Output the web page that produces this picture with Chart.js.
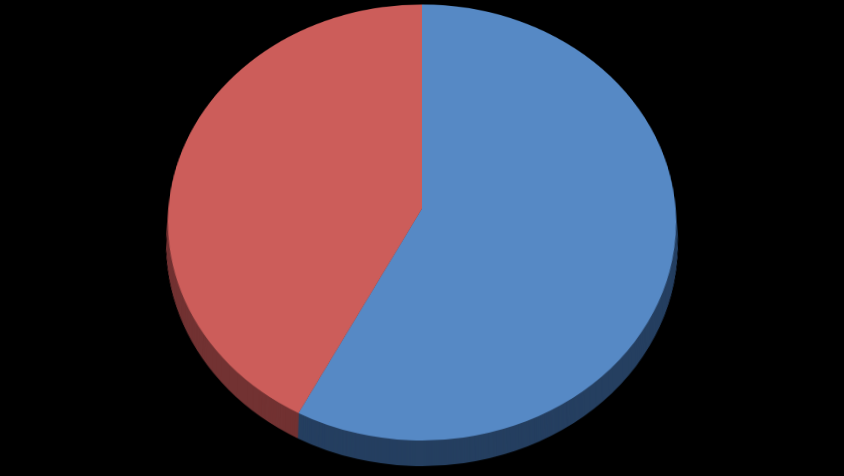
<!DOCTYPE html>
<html>
<head>
<meta charset="utf-8">
<script src="https://cdn.jsdelivr.net/npm/chart.js@4"></script>
<style>
  html, body { margin: 0; padding: 0; background: #000; overflow: hidden; }
  #wrap { width: 844px; height: 476px; position: relative; overflow: hidden; background: #000; }
  /* pie is drawn round, then tilted back with perspective for the 3d look */
  #box { position: absolute; left: 0; top: -45px; width: 844px; height: 540px;
         transform-origin: 422px 253.5px;
         transform: perspective(2039px) rotateX(31.07deg); }
</style>
</head>
<body>
<div id="wrap"><div id="box"><canvas id="pie-chart"></canvas></div></div>
<script>
// slice data
const labels = ["A", "B"]
const values = [57.6, 42.4]
const topColors = ["#5689c5", "#cc5d5a"]
const sideColors = ["#253f60", "#723232"]

// depth of the pie edge, in canvas px (before the tilt)
const depth = 26

// draws the dark edge by repeating each arc shifted down
const sidePlugin = {
  id: 'side',
  beforeDatasetsDraw(chart) {
    const ctx = chart.ctx
    const meta = chart.getDatasetMeta(0)
    for (let d = depth; d >= 1; d--) {
      ctx.save()
      ctx.translate(0, d)
      meta.data.forEach((arc, i) => {
        const old = arc.options.backgroundColor
        arc.options.backgroundColor = sideColors[i]
        arc.draw(ctx)
        arc.options.backgroundColor = old
      })
      ctx.restore()
    }
  }
}

new Chart(document.getElementById("pie-chart"), {
  type: 'pie',
  data: {
    labels: labels,
    datasets: [{
      data: values,
      backgroundColor: topColors,
      borderWidth: 0,
      hoverOffset: 0
    }]
  },
  options: {
    responsive: true,
    maintainAspectRatio: false,
    animation: false,
    events: [],
    layout: { padding: { top: 0, bottom: 33, left: 0, right: 0 } },
    plugins: { legend: { display: false }, tooltip: { enabled: false } }
  },
  plugins: [sidePlugin]
});
</script>
</body>
</html>
